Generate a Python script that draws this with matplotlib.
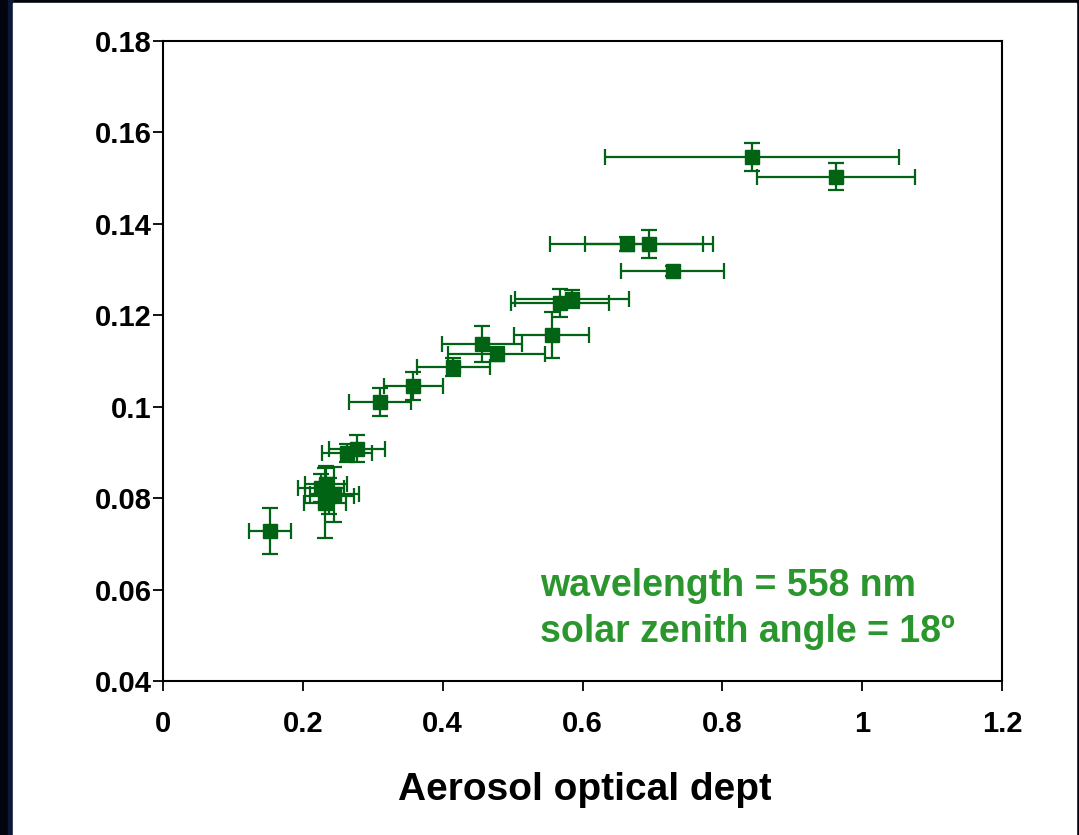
import matplotlib
matplotlib.use("Agg")
import matplotlib.pyplot as plt
from matplotlib.patches import Rectangle
from matplotlib.transforms import Bbox

# aerosol optical depth vs. signal, with x/y uncertainties
aod = [0.153, 0.226, 0.233, 0.245, 0.232, 0.238, 0.263, 0.277, 0.310, 0.358,
       0.415, 0.456, 0.477, 0.556, 0.568, 0.585, 0.663, 0.695, 0.729, 0.842, 0.963]
val = [0.0728, 0.0822, 0.0830, 0.0808, 0.0790, 0.0805, 0.0899, 0.0908, 0.1010, 0.1045,
       0.1087, 0.1137, 0.1115, 0.1157, 0.1227, 0.1236, 0.1356, 0.1356, 0.1297, 0.1546, 0.1503]
aod_err = [0.030, 0.033, 0.030, 0.035, 0.030, 0.035, 0.036, 0.040, 0.044, 0.042,
           0.052, 0.057, 0.070, 0.054, 0.070, 0.082, 0.109, 0.091, 0.074, 0.210, 0.113]
val_err = [0.005, 0.003, 0.004, 0.006, 0.0077, 0.004, 0.002, 0.003, 0.003, 0.003,
           0.002, 0.004, 0.0015, 0.005, 0.003, 0.002, 0.0015, 0.003, 0.001, 0.003, 0.003]

xticks = [0, 0.2, 0.4, 0.6, 0.8, 1, 1.2]
xticklabels = ["0", "0.2", "0.4", "0.6", "0.8", "1", "1.2"]
yticks = [0.04, 0.06, 0.08, 0.1, 0.12, 0.14, 0.16, 0.18]
yticklabels = ["0.04", "0.06", "0.08", "0.1", "0.12", "0.14", "0.16", "0.18"]

plt.rcParams["font.family"] = ["Liberation Sans", "DejaVu Sans"]
plt.rcParams["font.weight"] = "bold"

W, H = 1079, 835
fig = plt.figure(figsize=(W / 100, H / 100), dpi=100, facecolor="#02050d")
# white slide panel + thin navy edge on the left
fig.patches.append(Rectangle((8 / W, 0), 5 / W, 1, transform=fig.transFigure,
                             color="#0b1836", zorder=-2))
fig.patches.append(Rectangle((13 / W, 0), (1076 - 13) / W, (H - 3) / H,
                             transform=fig.transFigure, color="white", zorder=-1))

ax = fig.add_axes([163 / W, (H - 681) / H, (1002 - 163) / W, (681 - 41) / H])
ax.set_zorder(2)
ax.set_facecolor("white")
green = "#006414"
ax.errorbar(aod, val, xerr=aod_err, yerr=val_err, fmt="s", color=green,
            ms=10, mec=green, mfc=green, ecolor=green, elinewidth=1.6,
            capsize=5.5, capthick=1.6, zorder=3)

ax.set_xlim(0, 1.2)
ax.set_ylim(0.04, 0.18)
ax.set_xticks(xticks)
ax.set_xticklabels(xticklabels, fontsize=21, fontweight="bold")
ax.set_yticks(yticks)
ax.set_yticklabels(yticklabels, fontsize=21, fontweight="bold")
ax.tick_params(direction="out", length=7, width=1.3)
ax.tick_params(axis="x", pad=14)
ax.tick_params(axis="y", pad=1)
for s in ax.spines.values():
    s.set_linewidth(1.5)

note_color = "#2b962e"
ax.text(0.449, 0.148, "wavelength = 558 nm", transform=ax.transAxes,
        color=note_color, fontsize=27, fontweight="bold", va="center", ha="left")
ax.text(0.449, 0.077, "solar zenith angle = 18º", transform=ax.transAxes,
        color=note_color, fontsize=27, fontweight="bold", va="center", ha="left")

# x label, cut off on the right
lab = fig.text(398 / W, (H - 790) / H, "Aerosol optical depth", fontsize=28,
               fontweight="bold", ha="left", va="center", zorder=3)
lab.set_clip_box(Bbox.from_extents(0, 0, 771, H))
lab.set_clip_on(True)

fig.savefig("out.png", dpi=100, facecolor=fig.get_facecolor())
